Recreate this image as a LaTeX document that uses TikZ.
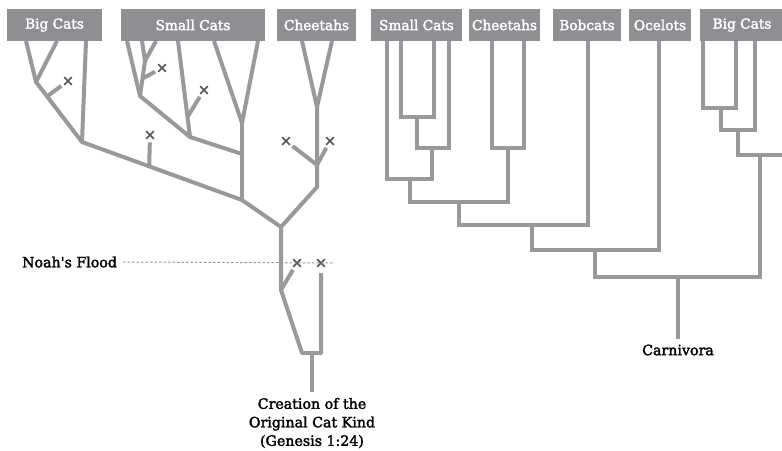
\documentclass[tikz,border=0pt]{standalone}
\usepackage{fontspec}
\setmainfont{DejaVu Serif}
\newfontfamily\catfont{DejaVu Serif}[FakeBold=2.2]
\usetikzlibrary{shapes.misc, calc, positioning}
\definecolor{branchgray}{RGB}{152,152,157}
\definecolor{boxgray}{RGB}{142,142,147}
\definecolor{markgray}{RGB}{82,82,86}

\begin{document}
\begin{tikzpicture}[x=1pt, y=-1pt]
			\tikzstyle{catbox}=[
			fill=boxgray,
			text=white,
			minimum height=32pt,
			inner sep=0pt,
			font=\catfont\fontsize{13.7}{16}\selectfont
			]
			\tikzstyle{branch}=[draw=branchgray, line width=4pt, line join=round]
			\tikzstyle{cladeline}=[draw=branchgray, line width=3.5pt, line join=miter]
			\tikzstyle{extinct}=[
			cross out,
			draw=markgray,
			line width=1.6pt,
			minimum size=6pt,
			inner sep=0pt
			]
			\tikzstyle{tomark}=[branch, shorten >=3.5pt]
			\tikzstyle{caption}=[font=\catfont\fontsize{14.2}{18.5}\selectfont, inner sep=0pt, outer sep=6pt]
			\useasboundingbox (0,0) rectangle (782,450);
			\clip (0,0) rectangle (782,450);
			% left tree: branching within the kinds
			\coordinate (bc1) at (26,41);
			\coordinate (bc2) at (57,41);
			\coordinate (bc3) at (86,41);
			\coordinate (bcJ1) at (36,82);
			\coordinate (bcJ2) at (82,142);
			\coordinate (sc1) at (127,41);
			\coordinate (sc2) at (142,41);
			\coordinate (sc3) at (156,41);
			\coordinate (sc4) at (178,41);
			\coordinate (sc5) at (214,41);
			\coordinate (sc6) at (258,41);
			\coordinate (scV1) at (145,61);
			\coordinate (scJ1) at (140,96);
			\coordinate (scJ2) at (190,137);
			\coordinate (scV2) at (242,123);
			\coordinate (scJ3) at (242,154);
			\coordinate (J5) at (242,200);
			\coordinate (ch1) at (302,41);
			\coordinate (ch2) at (332,41);
			\coordinate (chV) at (317,107);
			\coordinate (chB) at (317,165);
			\coordinate (chJ) at (317,187);
			\coordinate (ROOT1) at (281,227);
			\coordinate (rJ) at (281,290);
			\coordinate (rB) at (302,353);
			\coordinate (rC) at (321,353);
			\coordinate (STEM) at (312,353);
			\node[extinct] (X1) at (68,81) {};
			\node[extinct] (X2) at (150,135) {};
			\node[extinct] (X3) at (162,68) {};
			\node[extinct] (X4) at (204,90) {};
			\node[extinct] (X5) at (286,141) {};
			\node[extinct] (X6) at (330,141) {};
			\node[extinct] (X7) at (297,263) {};
			\node[extinct] (X8) at (321,263) {};
			\path[branch] (bc1) -- (bcJ1) -- (bcJ2) -- (J5) -- (ROOT1) -- (rJ) -- (rB) -- (rC) -- ([yshift=-10pt]X8.center);
			\path[branch] (bc2) -- (bcJ1);
			\path[branch] (bc3) -- (bcJ2);
			\path[tomark] ($(bcJ1)!0.24!(bcJ2)$) -- (X1);
			\path[tomark] ($(bcJ2)!0.42!(J5)$) -- (X2);
			\path[branch] (sc2) -- (scV1) -- (sc3);
			\path[branch] (sc1) -- (scJ1) -- (scJ2) -- (scJ3);
			\path[branch] (scV1) -- (scJ1);
			\path[tomark] ($(scV1)!0.5!(scJ1)$) -- (X3);
			\path[branch] (sc4) -- (scJ2);
			\path[tomark] ($(sc4)!0.79!(scJ2)$) -- (X4);
			\path[branch] (sc5) -- (scV2) -- (sc6);
			\path[branch] (scV2) -- (J5);
			\path[branch] (ch1) -- (chV) -- (ch2);
			\path[branch] (chV) -- (chJ) -- (ROOT1);
			\path[tomark] (chB) -- (X5);
			\path[tomark] (chB) -- (X6);
			\path[tomark] (rJ) -- (X7);
			\node[caption, align=center] (CREATE) at (312,423) {Creation of the\\Original Cat Kind\\(Genesis 1:24)};
			\path[branch] (STEM) -- (CREATE);
			\node[caption, anchor=east, outer sep=0pt] (FLOOD) at (117,262) {Noah's Flood};
			\coordinate (FLOODEND) at (333,263);
			\draw[branchgray, line width=1pt, dash pattern=on 2.5pt off 2pt] ([xshift=6pt]FLOOD.east) -- (FLOODEND);
			% right tree: one common ancestor
			\coordinate (s1) at (387,41);
			\coordinate (s2) at (401,41);
			\coordinate (s3) at (434,41);
			\coordinate (s4) at (449,41);
			\coordinate (c1) at (492,41);
			\coordinate (c2) at (524,41);
			\coordinate (b1) at (588,41);
			\coordinate (o1) at (659,41);
			\coordinate (g1) at (703,41);
			\coordinate (g2) at (736,41);
			\coordinate (g3) at (755,41);
			\coordinate (Ja) at (417,117);
			\coordinate (Jb) at (432,148);
			\coordinate (Jc) at (410,179);
			\coordinate (Jd) at (508,148);
			\coordinate (Je) at (459,202);
			\coordinate (Jf) at (532,225);
			\coordinate (Jg) at (595,250);
			\coordinate (Jh) at (678,277);
			\coordinate (Ka) at (721,108);
			\coordinate (Kb) at (738,130);
			\coordinate (Kc) at (760,155);
			\coordinate (OFF) at (795,155);
			\path[cladeline] (s2) |- (Ja) -| (s3);
			\path[cladeline] (Ja) |- (Jb) -| (s4);
			\path[cladeline] (s1) |- (Jc) -| (Jb);
			\path[cladeline] (c1) |- (Jd) -| (c2);
			\path[cladeline] (Jc) |- (Je) -| (Jd);
			\path[cladeline] (Je) |- (Jf) -| (b1);
			\path[cladeline] (Jf) |- (Jg) -| (o1);
			\path[cladeline] (Jg) |- (Jh) -| (Kc);
			\path[cladeline] (g1) |- (Ka) -| (g2);
			\path[cladeline] (Ka) |- (Kb) -| (g3);
			\path[cladeline] (Kb) |- (OFF);
			\path[cladeline] (Kc) -- (OFF);
			\node[caption] (CARN) at (678,350) {Carnivora};
			\path[cladeline] (Jh) -- (CARN);
			% kind boxes
			\node[catbox, minimum width=95pt] (LBIG) at (54.5,25) {Big Cats};
			\node[catbox, minimum width=144pt] (LSMALL) at (193,25) {Small Cats};
			\node[catbox, minimum width=79pt] (LCHEE) at (316.5,25) {Cheetahs};
			\node[catbox, minimum width=91pt] (RSMALL) at (416.5,25) {Small Cats};
			\node[catbox, minimum width=71pt] (RCHEE) at (504.5,25) {Cheetahs};
			\node[catbox, minimum width=68pt] (RBOB) at (587,25) {Bobcats};
			\node[catbox, minimum width=62pt] (ROCE) at (660,25) {Ocelots};
			\node[catbox, minimum width=84pt] (RBIG) at (742,25) {Big Cats};
		\end{tikzpicture}
\end{document}
